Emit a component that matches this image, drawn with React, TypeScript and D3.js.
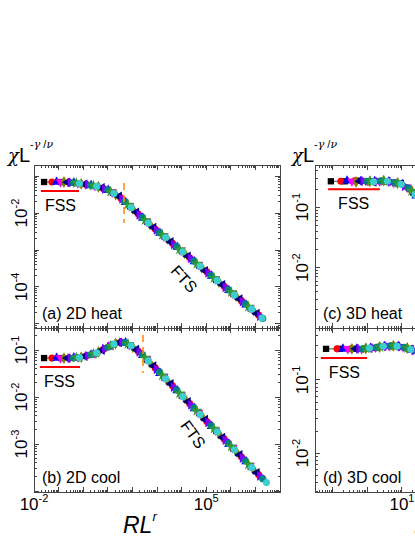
import React from "react";
import * as d3 from "d3";

// values are log10 exponents: [log10(RL^r), log10(chi L^-gamma/nu)]
const heat2D: number[][][] = [
  [[-1.59,-1.16],[-0.89,-1.16],[-0.19,-1.19],[0.51,-1.27],[1.21,-1.45],[1.91,-1.82],[2.61,-2.24],[3.31,-2.64],[4.01,-3.03],[4.71,-3.42],[5.41,-3.81],[6.11,-4.19],[6.81,-4.58]],
  [[-1.27,-1.16],[-0.57,-1.17],[0.13,-1.23],[0.83,-1.34],[1.53,-1.59],[2.23,-2.02],[2.93,-2.43],[3.63,-2.82],[4.33,-3.21],[5.03,-3.59],[5.73,-3.98],[6.43,-4.37],[7.13,-4.76]],
  [[-1.08,-1.16],[-0.38,-1.18],[0.32,-1.25],[1.02,-1.38],[1.72,-1.71],[2.42,-2.13],[3.12,-2.54],[3.82,-2.92],[4.52,-3.31],[5.22,-3.70],[5.92,-4.09],[6.62,-4.48]],
  [[-0.92,-1.16],[-0.22,-1.19],[0.48,-1.27],[1.18,-1.44],[1.88,-1.81],[2.58,-2.23],[3.28,-2.63],[3.98,-3.01],[4.68,-3.40],[5.38,-3.79],[6.08,-4.18],[6.78,-4.56]],
  [[-0.78,-1.16],[-0.08,-1.21],[0.62,-1.29],[1.32,-1.50],[2.02,-1.89],[2.72,-2.31],[3.42,-2.70],[4.12,-3.09],[4.82,-3.48],[5.52,-3.87],[6.22,-4.25],[6.92,-4.64]],
  [[-0.64,-1.17],[0.06,-1.22],[0.76,-1.32],[1.46,-1.55],[2.16,-1.98],[2.86,-2.39],[3.56,-2.78],[4.26,-3.17],[4.96,-3.56],[5.66,-3.94],[6.36,-4.33],[7.06,-4.72]],
  [[-0.52,-1.17],[0.18,-1.23],[0.88,-1.35],[1.58,-1.62],[2.28,-2.05],[2.98,-2.46],[3.68,-2.85],[4.38,-3.23],[5.08,-3.62],[5.78,-4.01],[6.48,-4.40],[7.18,-4.79]],
  [[-0.40,-1.18],[0.30,-1.25],[1.00,-1.37],[1.70,-1.69],[2.40,-2.12],[3.10,-2.53],[3.80,-2.91],[4.50,-3.30],[5.20,-3.69],[5.90,-4.08],[6.60,-4.46],[7.30,-4.85]],
  [[-0.28,-1.19],[0.42,-1.26],[1.12,-1.42],[1.82,-1.77],[2.52,-2.19],[3.22,-2.59],[3.92,-2.98],[4.62,-3.37],[5.32,-3.76],[6.02,-4.14],[6.72,-4.53]],
  [[-0.15,-1.20],[0.55,-1.28],[1.25,-1.47],[1.95,-1.85],[2.65,-2.27],[3.35,-2.66],[4.05,-3.05],[4.75,-3.44],[5.45,-3.83],[6.15,-4.22],[6.85,-4.60],[7.27,-4.84]],
];

const cool2D: number[][][] = [
  [[-1.59,-1.17],[-0.89,-1.17],[-0.19,-1.15],[0.51,-1.07],[1.21,-0.88],[1.91,-0.90],[2.61,-1.21],[3.31,-1.59],[4.01,-1.97],[4.71,-2.34],[5.41,-2.72],[6.11,-3.10],[6.81,-3.48]],
  [[-1.27,-1.17],[-0.57,-1.17],[0.13,-1.12],[0.83,-0.98],[1.53,-0.83],[2.23,-1.02],[2.93,-1.38],[3.63,-1.76],[4.33,-2.14],[5.03,-2.52],[5.73,-2.89],[6.43,-3.27],[7.13,-3.65]],
  [[-1.08,-1.17],[-0.38,-1.16],[0.32,-1.10],[1.02,-0.93],[1.72,-0.84],[2.42,-1.11],[3.12,-1.49],[3.82,-1.86],[4.52,-2.24],[5.22,-2.62],[5.92,-3.00],[6.62,-3.37]],
  [[-0.92,-1.17],[-0.22,-1.15],[0.48,-1.07],[1.18,-0.89],[1.88,-0.89],[2.58,-1.19],[3.28,-1.57],[3.98,-1.95],[4.68,-2.33],[5.38,-2.71],[6.08,-3.08],[6.78,-3.46]],
  [[-0.78,-1.17],[-0.08,-1.15],[0.62,-1.04],[1.32,-0.86],[2.02,-0.94],[2.72,-1.27],[3.42,-1.65],[4.12,-2.02],[4.82,-2.40],[5.52,-2.78],[6.22,-3.16],[6.92,-3.54]],
  [[-0.64,-1.17],[0.06,-1.13],[0.76,-1.00],[1.46,-0.84],[2.16,-0.99],[2.86,-1.34],[3.56,-1.72],[4.26,-2.10],[4.96,-2.48],[5.66,-2.86],[6.36,-3.23],[7.06,-3.61]],
  [[-0.52,-1.17],[0.18,-1.12],[0.88,-0.97],[1.58,-0.83],[2.28,-1.04],[2.98,-1.41],[3.68,-1.79],[4.38,-2.17],[5.08,-2.54],[5.78,-2.92],[6.48,-3.30],[7.18,-3.68]],
  [[-0.40,-1.17],[0.30,-1.10],[1.00,-0.94],[1.70,-0.84],[2.40,-1.10],[3.10,-1.47],[3.80,-1.85],[4.50,-2.23],[5.20,-2.61],[5.90,-2.99],[6.60,-3.36],[7.30,-3.74]],
  [[-0.28,-1.16],[0.42,-1.08],[1.12,-0.91],[1.82,-0.87],[2.52,-1.16],[3.22,-1.54],[3.92,-1.92],[4.62,-2.29],[5.32,-2.67],[6.02,-3.05],[6.72,-3.43]],
  [[-0.15,-1.16],[0.55,-1.06],[1.25,-0.87],[1.95,-0.91],[2.65,-1.23],[3.35,-1.61],[4.05,-1.99],[4.75,-2.37],[5.45,-2.74],[6.15,-3.12],[6.85,-3.50],[7.45,-3.82]],
];

const heat3D: number[][][] = [
  [[-1.06,-0.57],[-0.66,-0.57],[-0.26,-0.56],[0.14,-0.57],[0.54,-0.57],[0.94,-0.61],[1.34,-0.76]],
  [[-0.77,-0.57],[-0.37,-0.56],[0.03,-0.58],[0.43,-0.57],[0.83,-0.60],[1.23,-0.70]],
  [[-0.59,-0.56],[-0.19,-0.57],[0.21,-0.57],[0.61,-0.58],[1.01,-0.62],[1.41,-0.81]],
  [[-0.45,-0.57],[-0.05,-0.56],[0.35,-0.57],[0.75,-0.59],[1.15,-0.67],[1.55,-0.89]],
  [[-0.33,-0.58],[0.07,-0.57],[0.47,-0.56],[0.87,-0.60],[1.27,-0.73]],
  [[-0.22,-0.57],[0.18,-0.58],[0.58,-0.57],[0.98,-0.62],[1.38,-0.79]],
  [[-0.12,-0.56],[0.28,-0.57],[0.68,-0.58],[1.08,-0.65],[1.48,-0.85]],
  [[-0.02,-0.57],[0.38,-0.56],[0.78,-0.59],[1.18,-0.68],[1.58,-0.91]],
  [[0.08,-0.57],[0.48,-0.57],[0.88,-0.60],[1.28,-0.73]],
  [[0.18,-0.58],[0.58,-0.57],[0.98,-0.62],[1.38,-0.79]],
];

const cool3D: number[][][] = [
  [[-1.20,-0.575],[-0.80,-0.575],[-0.40,-0.575],[0.00,-0.57],[0.40,-0.545],[0.80,-0.535],[1.20,-0.575]],
  [[-0.88,-0.575],[-0.48,-0.575],[-0.08,-0.57],[0.32,-0.55],[0.72,-0.535],[1.12,-0.56]],
  [[-0.71,-0.575],[-0.31,-0.575],[0.09,-0.565],[0.49,-0.54],[0.89,-0.54],[1.29,-0.59]],
  [[-0.57,-0.575],[-0.17,-0.575],[0.23,-0.555],[0.63,-0.535],[1.03,-0.55],[1.43,-0.61]],
  [[-0.45,-0.575],[-0.05,-0.57],[0.35,-0.55],[0.75,-0.535],[1.15,-0.565],[1.55,-0.64]],
  [[-0.34,-0.575],[0.06,-0.565],[0.46,-0.54],[0.86,-0.54],[1.26,-0.585]],
  [[-0.24,-0.575],[0.16,-0.56],[0.56,-0.54],[0.96,-0.545],[1.36,-0.60]],
  [[-0.14,-0.575],[0.26,-0.555],[0.66,-0.535],[1.06,-0.555],[1.46,-0.62]],
  [[-0.04,-0.57],[0.36,-0.55],[0.76,-0.535],[1.16,-0.565],[1.56,-0.64]],
  [[0.06,-0.565],[0.46,-0.54],[0.86,-0.54],[1.26,-0.585]],
];

// error bars (series, point, half width in decades) seen on the first points in (b)
const cool2DErr = [[0, 0, 0.045], [1, 0, 0.035]];

// tick label exponents
const xLabelsLeft = [-2, 5];
const xLabelsRight = [1];
const yLabelsA = [-2, -4];
const yLabelsB = [-1, -2, -3];
const yLabelsC = [-1, -2];
const yLabelsD = [-1, -2];

const seriesColors = ["#000000", "#ff0000", "#0000ff", "#ff00ff", "#808000", "#000080", "#8000ff", "#008080", "#339933", "#3ccfcf"];
const seriesSymbols = [
  { type: d3.symbolSquare, rot: 0 },
  { type: d3.symbolCircle, rot: 0 },
  { type: d3.symbolTriangle, rot: 0 },
  { type: d3.symbolTriangle, rot: 180 },
  { type: d3.symbolDiamond, rot: 0 },
  { type: d3.symbolTriangle, rot: -90 },
  { type: d3.symbolTriangle, rot: 90 },
  { type: d3.symbolCircle, rot: 0 },
  { type: d3.symbolStar, rot: 0 },
  { type: d3.symbolCircle, rot: 0 },
];

const FONT = "Arial, 'Liberation Sans', Helvetica, sans-serif";
const AXIS = "#444";

const colLeft = [34, 280];
const colRight = [315, 561];
const rowTop = [165, 328];
const rowBottom = [328, 492];

const panels = [
  { name: "(a) 2D heat", data: heat2D, xr: colLeft, yr: rowTop, xdom: [-2, 8], ydom: [-5.11, -0.70],
    yLabels: yLabelsA, xLabels: null, fss: [-1.72, -0.17, -1.405], fssDx: 4, dash: [1.66, -1.19, -2.27], fts: [4.06, -3.81, 48], err: null },
  { name: "(b) 2D cool", data: cool2D, xr: colLeft, yr: rowBottom, xdom: [-2, 8], ydom: [-4.02, -0.53],
    yLabels: yLabelsB, xLabels: xLabelsLeft, fss: [-1.76, -0.13, -1.36], fssDx: 4, dash: [2.43, -0.68, -1.49], fts: [4.42, -2.81, 54], err: cool2DErr },
  { name: "(c) 3D heat", data: heat3D, xr: colRight, yr: rowTop, xdom: [-1.52, 5.61], ydom: [-3.0, -0.30],
    yLabels: yLabelsC, xLabels: null, fss: [-1.14, 0.36, -0.70], fssDx: 10, dash: null, fts: null, err: null },
  { name: "(d) 3D cool", data: cool3D, xr: colRight, yr: rowBottom, xdom: [-1.52, 5.61], ydom: [-2.53, -0.29],
    yLabels: yLabelsD, xLabels: xLabelsRight, fss: [-1.35, -0.01, -0.70], fssDx: 8, dash: null, fts: null, err: null },
];

function logTicks(lo: number, hi: number) {
  const major: number[] = [];
  const minor: number[] = [];
  for (let d = Math.floor(lo); d <= Math.ceil(hi); d++) {
    for (let m = 1; m < 10; m++) {
      const e = d + Math.log10(m);
      if (e < lo - 1e-9 || e > hi + 1e-9) continue;
      (m === 1 ? major : minor).push(m * Math.pow(10, d));
    }
  }
  return { major, minor };
}

function Pow10({ e, x, y, rotate }: { e: number; x: number; y: number; rotate?: boolean }) {
  const tf = rotate ? `translate(${x},${y}) rotate(-90)` : `translate(${x},${y})`;
  return (
    <text transform={tf} textAnchor="middle" fontFamily={FONT} fontSize={17} fill="#000">
      10<tspan dy={-8} fontSize={11}>{e}</tspan>
    </text>
  );
}

function Panel({ p }: { p: any }) {
  const x = d3.scaleLog().domain(p.xdom.map((e: number) => Math.pow(10, e))).range(p.xr);
  const y = d3.scaleLog().domain(p.ydom.map((e: number) => Math.pow(10, e))).range([p.yr[1], p.yr[0]]);
  const X = (e: number) => x(Math.pow(10, e));
  const Y = (e: number) => y(Math.pow(10, e));
  const [x0, x1] = p.xr;
  const [y0, y1] = p.yr;
  const xt = logTicks(p.xdom[0], p.xdom[1]);
  const yt = logTicks(p.ydom[0], p.ydom[1]);
  const line = d3.line<number[]>().x((d) => X(d[0])).y((d) => Y(d[1]));
  const clipId = `clip-${p.name.slice(1, 2)}`;

  const tick = (v: number, len: number, key: string) => (
    <g key={key}>
      <line x1={x(v)} x2={x(v)} y1={y1} y2={y1 - len} />
      <line x1={x(v)} x2={x(v)} y1={y0} y2={y0 + len} />
    </g>
  );
  const ytick = (v: number, len: number, key: string) => (
    <g key={key}>
      <line x1={x0} x2={x0 + len} y1={y(v)} y2={y(v)} />
      <line x1={x1} x2={x1 - len} y1={y(v)} y2={y(v)} />
    </g>
  );

  return (
    <g>
      <defs>
        <clipPath id={clipId}>
          <rect x={x0} y={y0} width={x1 - x0} height={y1 - y0} />
        </clipPath>
      </defs>
      {/* data: connecting lines first, symbols on top */}
      <g clipPath={`url(#${clipId})`}>
        {p.data.map((s: number[][], i: number) => (
          <path key={"l" + i} d={line(s) || ""} fill="none" stroke={seriesColors[i]} strokeWidth={0.7} />
        ))}
        {p.data.map((s: number[][], i: number) => (
          <g key={"s" + i} fill={seriesColors[i]}>
            {s.map((d, j) => (
              <path
                key={j}
                transform={`translate(${X(d[0])},${Y(d[1])}) rotate(${seriesSymbols[i].rot})`}
                d={d3.symbol().type(seriesSymbols[i].type).size(i === 8 ? 42 : 40)() || ""}
              />
            ))}
          </g>
        ))}
        {p.err &&
          p.err.map(([si, pj, h]: number[], k: number) => {
            const d = p.data[si][pj];
            const cx = X(d[0]);
            return (
              <g key={k} stroke={seriesColors[si]} strokeWidth={1}>
                <line x1={cx} x2={cx} y1={Y(d[1] + h)} y2={Y(d[1] - h)} />
                <line x1={cx - 2} x2={cx + 2} y1={Y(d[1] + h)} y2={Y(d[1] + h)} />
                <line x1={cx - 2} x2={cx + 2} y1={Y(d[1] - h)} y2={Y(d[1] - h)} />
              </g>
            );
          })}
      </g>

      {/* FSS marker */}
      <line x1={X(p.fss[0])} x2={X(p.fss[1])} y1={Y(p.fss[2])} y2={Y(p.fss[2])} stroke="#ff0000" strokeWidth={2} />
      <text x={X(p.fss[0]) + p.fssDx} y={Y(p.fss[2]) + 20} fontFamily={FONT} fontSize={16}>FSS</text>

      {p.dash && (
        <line x1={X(p.dash[0])} x2={X(p.dash[0])} y1={Y(p.dash[1])} y2={Y(p.dash[2])}
          stroke="#ff8c1a" strokeWidth={1.6} strokeDasharray="7,5" />
      )}
      {p.fts && (
        <text transform={`translate(${X(p.fts[0])},${Y(p.fts[1])}) rotate(${p.fts[2]})`}
          textAnchor="middle" dominantBaseline="middle" fontFamily={FONT} fontSize={16}>FTS</text>
      )}

      <text x={x0 + 8} y={y1 - 9} fontFamily={FONT} fontSize={16}>{p.name}</text>

      {/* frame and ticks */}
      <g stroke={AXIS} strokeWidth={1} shapeRendering="crispEdges">
        <rect x={x0} y={y0} width={x1 - x0} height={y1 - y0} fill="none" />
        {xt.major.map((v, i) => tick(v, 5, "xM" + i))}
        {xt.minor.map((v, i) => tick(v, 2.5, "xm" + i))}
        {yt.major.map((v, i) => ytick(v, 5, "yM" + i))}
        {yt.minor.map((v, i) => ytick(v, 2.5, "ym" + i))}
      </g>

      {p.yLabels.map((e: number) => (
        <Pow10 key={"yl" + e} e={e} x={x0 - 7} y={y(Math.pow(10, e))} rotate />
      ))}
      {p.xLabels &&
        p.xLabels.map((e: number) => <Pow10 key={"xl" + e} e={e} x={x(Math.pow(10, e))} y={510} />)}
    </g>
  );
}

function YTitle({ x }: { x: number }) {
  return (
    <text x={x} y={162} fontFamily={FONT} fontSize={20}>
      <tspan fontStyle="italic" fontFamily="'DejaVu Serif', serif" fontSize={18}>χ</tspan>
      <tspan>L</tspan>
      <tspan dy={-14} fontSize={11}>
        -<tspan fontStyle="italic" fontFamily="'DejaVu Serif', serif">γ</tspan> /
        <tspan fontStyle="italic" fontFamily="'DejaVu Serif', serif">ν</tspan>
      </tspan>
    </text>
  );
}

function XTitle({ x }: { x: number }) {
  return (
    <text x={x} y={533} fontFamily={FONT} fontSize={23} fontStyle="italic">
      RL<tspan dy={-12} fontSize={13}>r</tspan>
    </text>
  );
}

export default function App() {
  return (
    <svg width={415} height={537} style={{ position: "absolute", left: 0, top: 0, background: "#fff" }}>
      {panels.map((p) => (
        <Panel key={p.name} p={p} />
      ))}
      <YTitle x={8} />
      <YTitle x={292} />
      <XTitle x={123} />
      <XTitle x={414} />
    </svg>
  );
}
